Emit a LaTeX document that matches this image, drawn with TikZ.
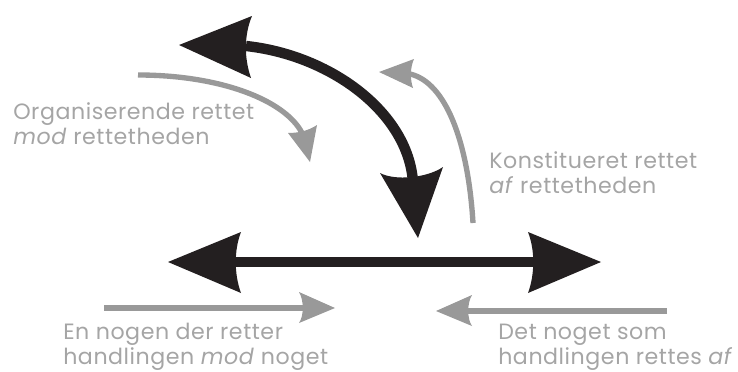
\documentclass[tikz,border=0pt]{standalone}
\usepackage{fontspec}
\setmainfont{Poppins}[LetterSpace=2.5]
\definecolor{ink}{RGB}{35,31,32}
\definecolor{ash}{RGB}{153,153,153}
\definecolor{txt}{RGB}{165,165,165}
\begin{document}
\begin{tikzpicture}[x=0.75pt,y=-0.75pt,
  bigline/.style={draw=ink,line width=7.8pt},
  thinline/.style={draw=ash,line width=4pt},
  bighead/.style={fill=ink},
  thinhead/.style={fill=ash},
  lbl/.style={text=txt,font=\fontsize{16.6}{18.75}\selectfont,anchor=base west,inner sep=0pt,align=left}]
\useasboundingbox (0,0) rectangle (738,371);

% main horizontal double arrow
\coordinate (hL) at (234,262);
\coordinate (hR) at (535,262);
\draw[bigline] (hL) -- (hR);
\fill[bighead] (168,262) -- (241,232) .. controls (234,250) and (234,274) .. (241,293) -- cycle;
\fill[bighead] (601,262) -- (528,232) .. controls (535,250) and (535,274) .. (528,293) -- cycle;

% big curved double arrow
\coordinate (cA) at (246,46);
\coordinate (cB) at (413,182);
\draw[bigline] (cA) .. controls (330,55) and (408,112) .. (cB);
\fill[bighead] (179,45) -- (252,16) .. controls (244,35) and (244,58) .. (251,78) -- cycle;
\fill[bighead] (418,238) -- (380,173) .. controls (395,181) and (427,178) .. (443,167) -- cycle;

% grey curve "Organiserende"
\coordinate (o1) at (138,75);
\coordinate (o2) at (302,133);
\draw[thinline] (o1) .. controls (220,75) and (285,100) .. (o2);
\fill[thinhead] (310,162) -- (288,133) .. controls (298,133) and (308,131) .. (317,125) -- cycle;

% grey curve "Konstitueret"
\coordinate (k1) at (473,223);
\coordinate (k2) at (410,74);
\draw[thinline] (k1) .. controls (468,140) and (445,82) .. (k2);
\fill[thinhead] (379,72) -- (414,59) .. controls (410,68) and (410,79) .. (413,88) -- cycle;

% grey straight arrows
\coordinate (l1) at (104,308);
\coordinate (l2) at (303,308);
\draw[thinline] (l1) -- (l2);
\fill[thinhead] (335,308) -- (299,292) .. controls (304,300) and (304,316) .. (299,323) -- cycle;
\coordinate (r1) at (667,311);
\coordinate (r2) at (468,311);
\draw[thinline] (r1) -- (r2);
\fill[thinhead] (436,311) -- (472,295) .. controls (467,303) and (467,319) .. (472,326) -- cycle;

% labels (anchor at baseline of last line)
\node[lbl] (org) at (13,144) {Organiserende rettet\\\textit{mod} rettetheden};
\node[lbl] (kon) at (489,193) {Konstitueret rettet\\\textit{af} rettetheden};
\node[lbl] (en) at (63,364) {En nogen der retter\\handlingen \textit{mod} noget};
\node[lbl] (det) at (498,364) {Det noget som\\handlingen rettes \textit{af}};
\end{tikzpicture}
\end{document}
